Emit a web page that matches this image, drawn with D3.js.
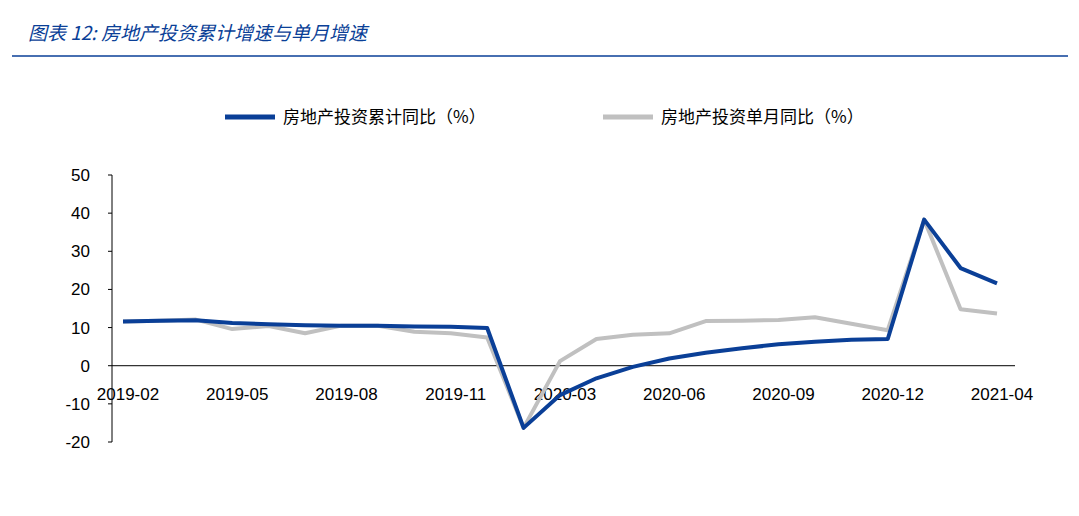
<!DOCTYPE html>
<html><head><meta charset="utf-8">
<script src="https://cdn.jsdelivr.net/npm/d3@7"></script>
<style>body{margin:0;background:#fff;font-family:"Noto Sans CJK SC","Liberation Sans",sans-serif;}</style>
</head><body><svg id="c" width="1079" height="516"></svg>
<script>
var months = ["2019-02","2019-03","2019-04","2019-05","2019-06","2019-07","2019-08","2019-09","2019-10","2019-11","2019-12",
  "2020-02","2020-03","2020-04","2020-05","2020-06","2020-07","2020-08","2020-09","2020-10","2020-11","2020-12",
  "2021-02","2021-03","2021-04"];
var cumulative = [11.6,11.8,11.9,11.2,10.9,10.6,10.5,10.5,10.3,10.2,9.9,
  -16.3,-7.7,-3.3,-0.3,1.9,3.4,4.6,5.6,6.3,6.8,7.0, 38.3,25.6,21.6];
var monthly = [11.6,11.8,12.1,9.6,10.4,8.5,10.5,10.5,8.9,8.5,7.4,
  -16.3,1.2,7.0,8.1,8.5,11.7,11.8,12.0,12.7,11.0,9.3, 38.3,14.8,13.7];
var yTicks = [-20,-10,0,10,20,30,40,50];
var names = ["房地产投资累计同比（%）","房地产投资单月同比（%）"];
var colors = ["#0a3f97","#c0c0c0"];

var svg = d3.select("#c");
svg.append("text").attr("x",28).attr("y",40).attr("font-size",19).attr("font-style","italic")
  .attr("fill","#0a3f97").text("图表 12:  房地产投资累计增速与单月增速");
svg.append("line").attr("x1",12).attr("x2",1068).attr("y1",56).attr("y2",56).attr("stroke","#0a3f97").attr("stroke-width",1.5);

var x = d3.scalePoint().domain(months).range([123,997]);
var y = d3.scaleLinear().domain([-20,50]).range([442,175]);

svg.append("line").attr("x1",112).attr("x2",112).attr("y1",175).attr("y2",442).attr("stroke","#000");
svg.selectAll(".yt").data(yTicks).enter().append("line")
  .attr("x1",108).attr("x2",112).attr("y1",function(d){return y(d);}).attr("y2",function(d){return y(d);}).attr("stroke","#000");
svg.selectAll(".yl").data(yTicks).enter().append("text")
  .attr("x",90).attr("y",function(d){return y(d)+6;}).attr("text-anchor","end")
  .attr("font-size",17).attr("font-family","Liberation Sans, sans-serif").text(function(d){return d;});

svg.append("line").attr("x1",112).attr("x2",1015).attr("y1",y(0)).attr("y2",y(0)).attr("stroke","#000");
svg.selectAll(".xl").data(months.filter(function(d,i){return i%3===0;})).enter().append("text")
  .attr("x",function(d){return x(d)+5;}).attr("y",y(0)+34).attr("text-anchor","middle")
  .attr("font-size",17).attr("font-family","Liberation Sans, sans-serif").text(function(d){return d;});

var line = d3.line().x(function(d,i){return x(months[i]);}).y(function(d){return y(d);});
[monthly,cumulative].forEach(function(s,k){
  svg.append("path").attr("d",line(s)).attr("fill","none")
    .attr("stroke",colors[1-k]).attr("stroke-width",4).attr("stroke-linejoin","round");
});

var lx = [225,603];
names.forEach(function(n,i){
  svg.append("line").attr("x1",lx[i]).attr("x2",lx[i]+50).attr("y1",117).attr("y2",117)
    .attr("stroke",colors[i]).attr("stroke-width",5);
  svg.append("text").attr("x",lx[i]+58).attr("y",123).attr("font-size",17).text(n);
});
</script></body></html>
